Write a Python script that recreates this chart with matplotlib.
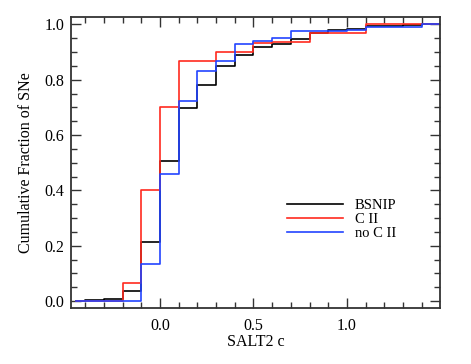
import numpy as np
import matplotlib
matplotlib.use("Agg")
import matplotlib.pyplot as plt
from matplotlib.ticker import MultipleLocator

# bin edges in SALT2 c (first segment is a half bin)
edges = [-0.45, -0.4, -0.3, -0.2, -0.1, 0.0, 0.1, 0.2, 0.3, 0.4, 0.5,
         0.6, 0.7, 0.8, 0.9, 1.0, 1.1, 1.2, 1.3, 1.4, 1.5]

# cumulative fraction in each bin
bsnip = [0.0, 0.003, 0.008, 0.036, 0.212, 0.506, 0.697, 0.78, 0.85, 0.89,
         0.92, 0.928, 0.946, 0.968, 0.98, 0.984, 0.995, 0.995, 0.997, 1.0]
c2 = [0.0, 0.0, 0.0, 0.067, 0.40, 0.70, 0.868, 0.868, 0.902, 0.902,
      0.932, 0.938, 0.938, 0.968, 0.968, 0.968, 1.0, 1.0, 1.0, 1.0]
no_c2 = [0.0, 0.0, 0.0, 0.0, 0.133, 0.459, 0.723, 0.833, 0.868, 0.929,
         0.941, 0.952, 0.978, 0.978, 0.978, 0.981, 0.992, 0.992, 0.992, 1.0]

series = [("BSNIP", bsnip, "black"), ("C II", c2, "#ff2a1f"), ("no C II", no_c2, "#2244ff")]

plt.rcParams['font.family'] = ['Liberation Serif', 'DejaVu Serif']

fig = plt.figure(figsize=(4.71, 3.64), dpi=100)
ax = fig.add_axes([0.1507, 0.1538, 0.7833, 0.7995])

for name, vals, col in series:
    ax.step(edges, list(vals) + [vals[-1]], where='post', color=col, lw=1.2, label=name)

ax.set_xlim(-0.476, 1.497)
ax.set_ylim(-0.025, 1.027)
ax.xaxis.set_major_locator(MultipleLocator(0.5))
ax.xaxis.set_minor_locator(MultipleLocator(0.1))
ax.yaxis.set_major_locator(MultipleLocator(0.2))
ax.yaxis.set_minor_locator(MultipleLocator(0.05))
ax.xaxis.set_major_formatter(plt.FuncFormatter(lambda v, p: "%.1f" % v))
ax.yaxis.set_major_formatter(plt.FuncFormatter(lambda v, p: "%.1f" % v))
ax.tick_params(which='both', direction='in', top=True, right=True, labelsize=11.5, width=1.0, color='#333333')
ax.tick_params(which='major', length=7)
ax.tick_params(which='minor', length=4)
ax.tick_params(axis='x', which='major', pad=7)
ax.tick_params(axis='y', which='major', pad=5)
for s in ax.spines.values():
    s.set_linewidth(1.3)
    s.set_color('#333333')

ax.set_xlabel("SALT2 c", fontsize=11.5, labelpad=0)
ax.set_ylabel("Cumulative Fraction of SNe", fontsize=11.5, labelpad=7)

ax.legend(loc='upper left', bbox_to_anchor=(0.567, 0.40), frameon=False, fontsize=10.5,
          handlelength=3.8, handletextpad=0.8, labelspacing=0.05, borderpad=0)

fig.savefig("out.png", dpi=100)
